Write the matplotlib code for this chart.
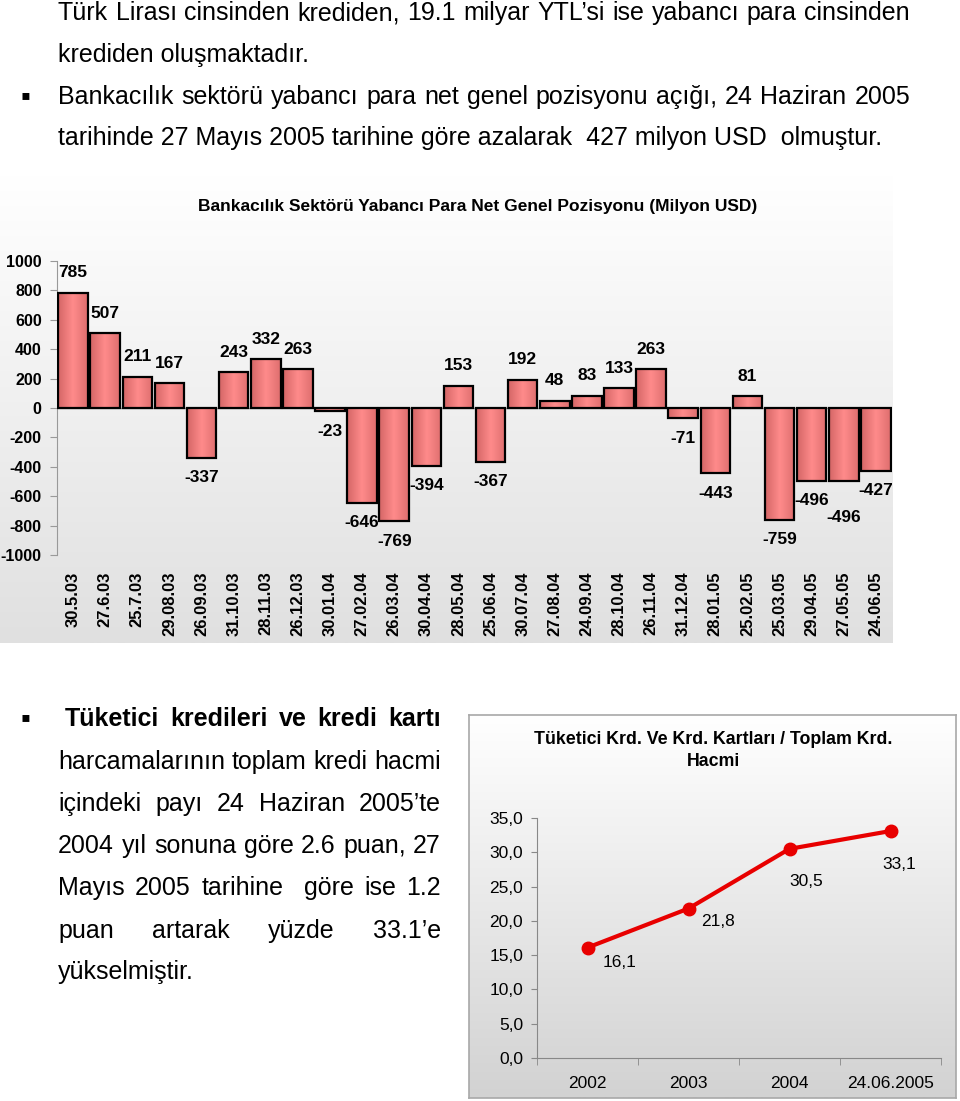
import numpy as np
import matplotlib.pyplot as plt
from matplotlib.colors import LinearSegmentedColormap
from matplotlib.ticker import FuncFormatter

# bar chart: banking sector FX net general position (million USD)
dates = ['30.5.03', '27.6.03', '25.7.03', '29.08.03', '26.09.03', '31.10.03', '28.11.03',
         '26.12.03', '30.01.04', '27.02.04', '26.03.04', '30.04.04', '28.05.04', '25.06.04',
         '30.07.04', '27.08.04', '24.09.04', '28.10.04', '26.11.04', '31.12.04', '28.01.05',
         '25.02.05', '25.03.05', '29.04.05', '27.05.05', '24.06.05']
positions = [785, 507, 211, 167, -337, 243, 332, 263, -23, -646, -769, -394, 153, -367,
             192, 48, 83, 133, 263, -71, -443, 81, -759, -496, -496, -427]

# line chart: consumer credit + credit cards / total credit
years = ['2002', '2003', '2004', '24.06.2005']
shares = [16.1, 21.8, 30.5, 33.1]

W, H = 960, 1101
plt.rcParams['font.family'] = ['Liberation Sans', 'DejaVu Sans']
plt.rcParams['axes.unicode_minus'] = False

fig = plt.figure(figsize=(W / 100, H / 100), dpi=100)
renderer = fig.canvas.get_renderer()


def box(x0, y0, x1, y1):
    return [x0 / W, 1 - y1 / H, (x1 - x0) / W, (y1 - y0) / H]


def put(x, y, s, **kw):
    return fig.text(x / W, 1 - y / H, s, va='center', **kw)


def justified(line, x0, x1, y, **kw):
    words = line.split(' ')
    texts = [put(0, y, w, **kw) for w in words]
    widths = [t.get_window_extent(renderer).width for t in texts]
    gap = (x1 - x0 - sum(widths)) / (len(words) - 1)
    x = x0
    for t, w in zip(texts, widths):
        t.set_x(x / W)
        x += w + gap


def gradient_panel(rect, top, bottom):
    bg = fig.add_axes(rect, zorder=0)
    cmap = LinearSegmentedColormap.from_list('g', [top, bottom])
    bg.imshow(np.linspace(0, 1, 256).reshape(-1, 1), cmap=cmap, aspect='auto',
              extent=[0, 1, 0, 1])
    bg.set_xticks([])
    bg.set_yticks([])
    return bg


# ---- body text
body = dict(fontsize=18, color='black')
justified('Türk Lirası cinsinden krediden, 19.1 milyar YTL’si ise yabancı para cinsinden',
          58, 910, 13, **body)
put(58, 55, 'krediden oluşmaktadır.', **body)
put(20, 97, '▪', fontsize=20)
justified('Bankacılık sektörü yabancı para net genel pozisyonu açığı, 24 Haziran 2005',
          58, 910, 97, **body)
put(58, 138, 'tarihinde 27 Mayıs 2005 tarihine göre azalarak  427 milyon USD  olmuştur.', **body)

put(20, 719, '▪', fontsize=20)
justified('Tüketici kredileri ve kredi kartı', 65, 441, 719, fontweight='bold', **body)
for y, line in [(762, 'harcamalarının toplam kredi hacmi'),
                (804, 'içindeki payı 24 Haziran 2005’te'),
                (846, '2004 yıl sonuna göre 2.6 puan, 27'),
                (888, 'Mayıs 2005 tarihine  göre ise 1.2'),
                (931, 'puan artarak yüzde 33.1’e')]:
    justified(line, 58, 441, y, **body)
put(58, 972, 'yükselmiştir.', **body)

# ---- bar chart
bg1 = gradient_panel(box(0, 175, 893, 643), '#FFFFFF', '#E0E0E0')
for s in bg1.spines.values():
    s.set_visible(False)
put(478, 207, 'Bankacılık Sektörü Yabancı Para Net Genel Pozisyonu (Milyon USD)',
    fontsize=12.5, fontweight='bold', ha='center')

ax = fig.add_axes(box(57, 261, 892, 555), zorder=1)
ax.patch.set_visible(False)
x = np.arange(len(dates))
bars = ax.bar(x, positions, width=0.92, facecolor='none', edgecolor='black',
              linewidth=1.6, zorder=3)
bar_cmap = LinearSegmentedColormap.from_list('bar', ['#D46666', '#FF8B8B', '#DE6E6E'])
for b in bars:
    ax.imshow(np.linspace(0, 1, 64).reshape(1, -1), cmap=bar_cmap, aspect='auto',
              extent=[b.get_x(), b.get_x() + b.get_width(), b.get_y(), b.get_y() + b.get_height()],
              zorder=2)
# Excel pushed the second -496 label down so it would not collide
label_nudge = {24: -17}
for i, (b, v) in enumerate(zip(bars, positions)):
    dy = (20 if v >= 0 else -20) + label_nudge.get(i, 0)
    ax.annotate(str(v), (b.get_x() + b.get_width() / 2, v), xytext=(0, dy),
                textcoords='offset pixels', ha='center', va='center',
                fontsize=12.5, fontweight='bold')
ax.axhline(0, color='#999999', lw=1, zorder=1)
ax.set_xlim(-0.5, len(dates) - 0.5)
ax.set_ylim(-1000, 1000)
ax.set_yticks(range(-1000, 1001, 200))
ax.set_xticks(x)
ax.set_xticklabels(dates, rotation=90, fontweight='bold', fontsize=12)
for lab in ax.get_yticklabels():
    lab.set_fontweight('bold')
    lab.set_fontsize(11.5)
ax.tick_params(axis='x', length=0, pad=12)
ax.tick_params(axis='y', length=5, color='#999999', pad=6)
for s in ['top', 'right', 'bottom']:
    ax.spines[s].set_visible(False)
ax.spines['left'].set_color('#999999')

# ---- line chart
bg2 = gradient_panel(box(469, 715, 956, 1098), '#FFFFFF', '#D2D2D2')
for s in bg2.spines.values():
    s.set_color('#A8A8A8')
    s.set_linewidth(1.2)
put(713, 740, 'Tüketici Krd. Ve Krd. Kartları / Toplam Krd.', fontsize=12.8,
    fontweight='bold', ha='center')
put(713, 762, 'Hacmi', fontsize=12.8, fontweight='bold', ha='center')

ax2 = fig.add_axes(box(537, 818, 941, 1058), zorder=1)
ax2.patch.set_visible(False)
x2 = np.arange(len(years))
ax2.plot(x2, shares, color='#E80000', lw=3, marker='o', ms=9, zorder=3)
label_offsets = [(32, -15), (30, -13), (17, -33), (9, -33)]
for xi, v, off in zip(x2, shares, label_offsets):
    ax2.annotate(f'{v:.1f}'.replace('.', ','), (xi, v), xytext=off,
                 textcoords='offset pixels', ha='center', va='center', fontsize=12.5)
ax2.set_xlim(-0.5, len(years) - 0.5)
ax2.set_ylim(0, 35)
ax2.set_yticks(range(0, 36, 5))
ax2.yaxis.set_major_formatter(FuncFormatter(lambda v, p: f'{v:.1f}'.replace('.', ',')))
ax2.set_xticks(x2)
ax2.set_xticklabels(years)
ax2.set_xticks(np.arange(len(years) + 1) - 0.5, minor=True)
ax2.tick_params(axis='x', which='major', length=0, pad=13, labelsize=12.5)
ax2.tick_params(axis='x', which='minor', length=5, color='#888888')
ax2.tick_params(axis='y', length=4, color='#888888', pad=6, labelsize=12.5)
for s in ['top', 'right']:
    ax2.spines[s].set_visible(False)
for s in ['left', 'bottom']:
    ax2.spines[s].set_color('#888888')

fig.savefig('out.png', dpi=100)
